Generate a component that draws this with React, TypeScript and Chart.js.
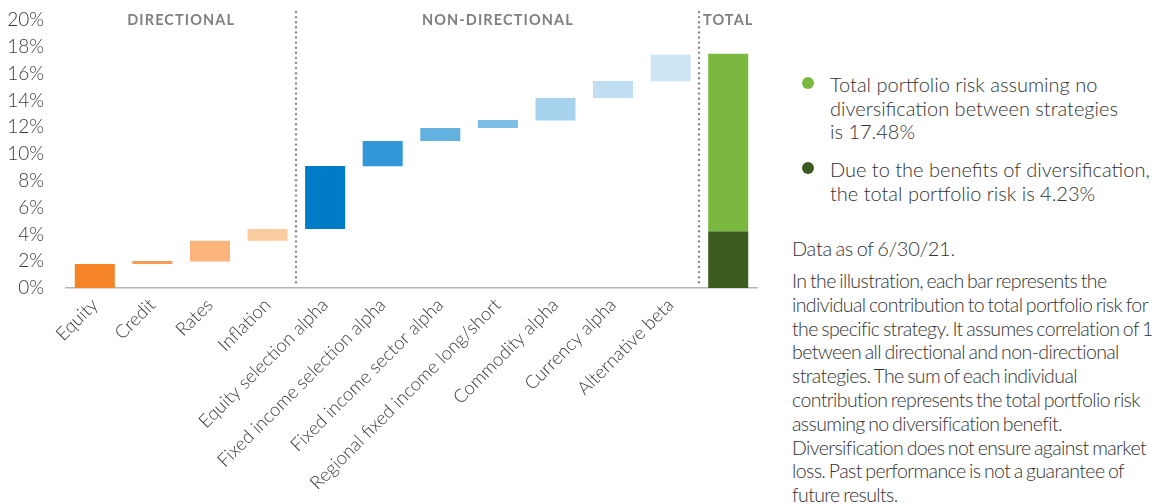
import React, { useEffect, useRef } from 'react';
import { Chart, registerables } from 'chart.js';

Chart.register(...registerables);

// ---- data ----
const categories = [
  'Equity',
  'Credit',
  'Rates',
  'Inflation',
  'Equity selection alpha',
  'Fixed income selection alpha',
  'Fixed income sector alpha',
  'Regional fixed income long/short',
  'Commodity alpha',
  'Currency alpha',
  'Alternative beta',
  '',
];
const barStart = [0, 1.79, 1.97, 3.53, 4.4, 9.08, 10.97, 11.94, 12.5, 14.18, 15.42, null];
const barEnd = [1.79, 2.01, 3.53, 4.4, 9.1, 10.97, 11.94, 12.54, 14.18, 15.45, 17.4, null];
const barColors = [
  '#F58426', '#F79C55', '#FBB479', '#FBCBA0',
  '#007BC7', '#3297D8', '#62B1DF', '#7DBEE7', '#A7D3EF', '#C1DFF2', '#CDE4F3',
  '#7AB83F',
];
const totalUndiversified = 17.48;
const totalDiversified = 4.23;
const totalIndex = 11;
const groupLabels = ['DIRECTIONAL', 'NON-DIRECTIONAL', 'TOTAL'];
const groupRanges = [[0, 3], [4, 10], [11, 11]];
const dividerAfter = [3, 10];
const yMin = 0;
const yMax = 20;
const yStep = 2;

const legendItems = [
  { color: '#7AB83F', lines: ['Total portfolio risk assuming no', 'diversification between strategies', 'is 17.48%'] },
  { color: '#3B5B1F', lines: ['Due to the benefits of diversification,', 'the total portfolio risk is 4.23%'] },
];
const noteDate = 'Data as of 6/30/21.';
const noteLines = [
  'In the illustration, each bar represents the',
  'individual contribution to total portfolio risk for',
  'the specific strategy. It assumes correlation of 1',
  'between all directional and non-directional',
  'strategies. The sum of each individual',
  'contribution represents the total portfolio risk',
  'assuming no diversification benefit.',
  'Diversification does not ensure against market',
  'loss. Past performance is not a guarantee of',
  'future results.',
];

const FONT = 'Lato, "Open Sans", sans-serif';

const overlayPlugin = {
  id: 'overlay',
  afterDatasetsDraw(chart: any) {
    const { ctx, scales, chartArea } = chart;
    const x = scales.x;
    ctx.save();
    // dotted dividers
    ctx.fillStyle = '#8a8a8a';
    dividerAfter.forEach((i) => {
      const px = Math.round((x.getPixelForValue(i) + x.getPixelForValue(i + 1)) / 2);
      for (let y = 12; y <= chartArea.bottom - 5; y += 5.1) {
        ctx.beginPath();
        ctx.arc(px, y, 1.2, 0, Math.PI * 2);
        ctx.fill();
      }
    });
    // group headers
    ctx.font = `bold 14.5px ${FONT}`;
    ctx.fillStyle = '#7f7f7f';
    ctx.textAlign = 'center';
    ctx.textBaseline = 'middle';
    try { (ctx as any).letterSpacing = '1.1px'; } catch (e) {}
    groupLabels.forEach((label, k) => {
      const [a, b] = groupRanges[k];
      const cx = (x.getPixelForValue(a) + x.getPixelForValue(b)) / 2;
      ctx.fillText(label, cx, 20);
    });
    ctx.restore();
  },
};

function ChartView() {
  const ref = useRef<HTMLCanvasElement | null>(null);
  useEffect(() => {
    if (!ref.current) return;
    const chart = new Chart(ref.current, {
      type: 'bar',
      data: {
        labels: categories,
        datasets: [
          {
            data: categories.map((_, i) =>
              barStart[i] == null ? null : [barStart[i] as number, barEnd[i] as number]
            ) as any,
            backgroundColor: barColors,
            grouped: false,
            categoryPercentage: 1,
            barPercentage: 0.695,
          } as any,
          {
            data: categories.map((_, i) => (i === totalIndex ? [totalDiversified, totalUndiversified] : null)) as any,
            backgroundColor: '#7AB83F',
            grouped: false,
            categoryPercentage: 1,
            barPercentage: 0.695,
          } as any,
          {
            data: categories.map((_, i) => (i === totalIndex ? [0, totalDiversified] : null)) as any,
            backgroundColor: '#3B5B1F',
            grouped: false,
            categoryPercentage: 1,
            barPercentage: 0.695,
          } as any,
        ],
      },
      options: {
        animation: false,
        responsive: false,
        maintainAspectRatio: false,
        layout: { padding: { top: 20, left: 0, right: 18, bottom: 0 } },
        plugins: { legend: { display: false }, tooltip: { enabled: false } },
        scales: {
          x: {
            grid: { display: false, drawTicks: false },
            border: { display: true, color: '#b5b5b5', width: 1.5 },
            ticks: {
              minRotation: 45,
              maxRotation: 45,
              autoSkip: false,
              padding: 6,
              color: '#3a3a3a',
              font: { family: FONT, size: 18.5, weight: '300' as any },
            },
            afterFit: (s: any) => { s.height = 216; },
          },
          y: {
            min: yMin,
            max: yMax,
            grid: { display: false, drawTicks: true, tickLength: 22 },
            border: { display: false },
            ticks: {
              stepSize: yStep,
              padding: 0,
              autoSkip: false,
              color: '#3a3a3a',
              font: { family: FONT, size: 19, weight: '300' as any },
              callback: (v: any) => `${v}%`,
            },
            afterFit: (s: any) => { s.width = 66; s.paddingTop = 0; s.paddingBottom = 0; },
          },
        },
      },
      plugins: [overlayPlugin],
    });
    return () => chart.destroy();
  }, []);
  return <canvas ref={ref} width={775} height={504} style={{ position: 'absolute', left: 0, top: 0, width: 775, height: 504 }} />;
}

export default function App() {
  return (
    <div style={{ position: 'fixed', left: 0, top: 0, width: 1154, height: 504, background: '#fff', overflow: 'hidden', fontFamily: FONT, color: '#333' }}>
      <ChartView />
      {legendItems.map((item, k) => (
        <div key={k} style={{ position: 'absolute', left: 802, top: k === 0 ? 73 : 158 }}>
          <div style={{ position: 'absolute', left: 0, top: 4, width: 12, height: 12, borderRadius: 6, background: item.color }} />
          <div style={{ position: 'absolute', left: 28, top: 0, fontSize: 20, lineHeight: '23.5px', fontWeight: 300, whiteSpace: 'nowrap' }}>
            {item.lines.map((l, j) => <div key={j}>{l}</div>)}
          </div>
        </div>
      ))}
      <div style={{ position: 'absolute', left: 792, top: 236, fontSize: 20, lineHeight: '24px', letterSpacing: '-0.3px', wordSpacing: '-1.5px', whiteSpace: 'nowrap', fontWeight: 300 }}>
        {noteDate}
      </div>
      <div style={{ position: 'absolute', left: 792, top: 269, fontSize: 19.5, lineHeight: '23.8px', letterSpacing: '-0.6px', wordSpacing: '-1.2px', whiteSpace: 'nowrap', fontWeight: 300 }}>
        {noteLines.map((l, j) => <div key={j}>{l}</div>)}
      </div>
    </div>
  );
}
